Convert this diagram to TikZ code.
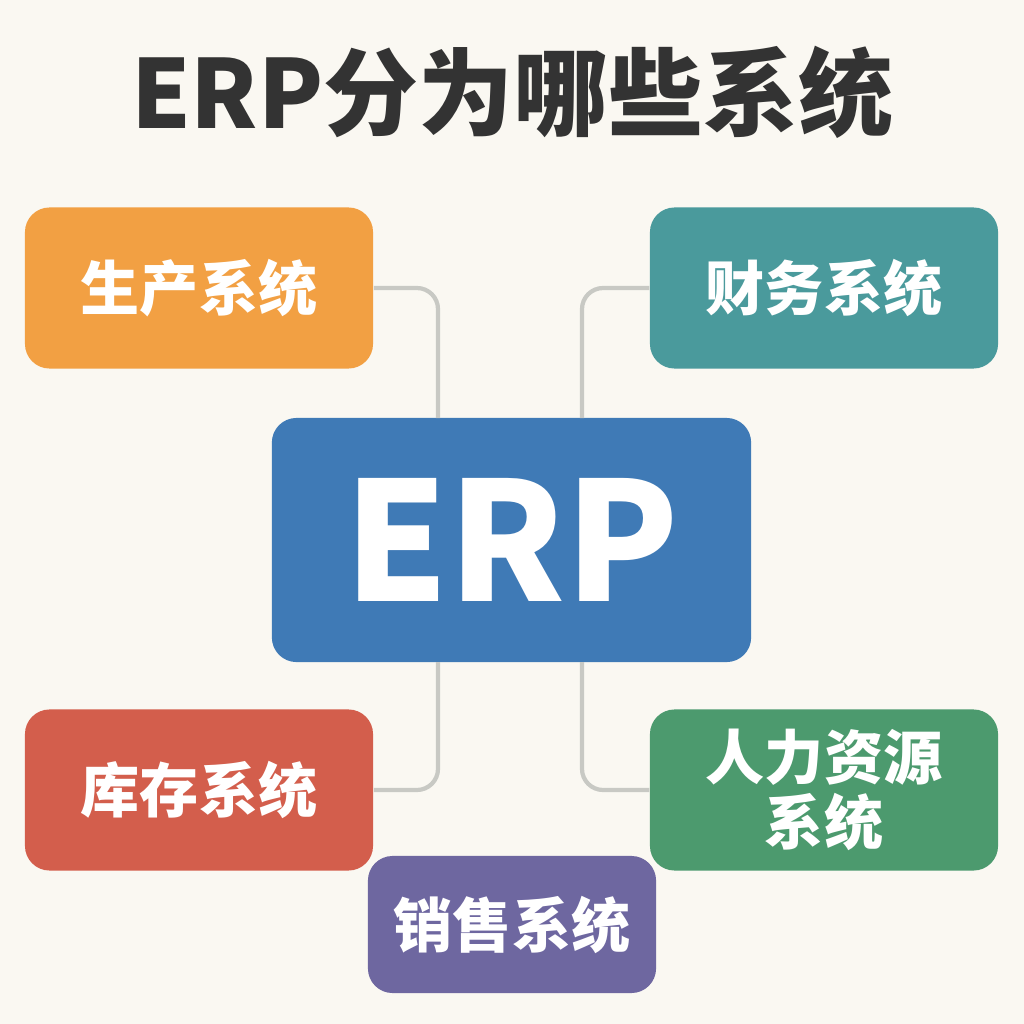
\documentclass[tikz,border=0pt]{standalone}
\usepackage{fontspec}
\newfontfamily\cjk{Noto Sans CJK SC}
\definecolor{BgClr}{HTML}{FAF8F2}
\definecolor{TitleClr}{HTML}{333333}
\definecolor{LinkClr}{HTML}{C8C9C4}
\definecolor{ProdClr}{HTML}{F2A043}
\definecolor{FinClr}{HTML}{4A9A9C}
\definecolor{ErpClr}{HTML}{3F7AB6}
\definecolor{StockClr}{HTML}{D35E4C}
\definecolor{HrClr}{HTML}{4C9A6E}
\definecolor{SaleClr}{HTML}{6E67A0}
\tikzset{
  sysbox/.style={rounded corners=7pt,text=white,align=center,
    minimum width=9.80cm*0.355,minimum height=1.61cm,inner sep=0pt,
    font=\cjk\bfseries\fontsize{16.8}{20}\selectfont},
  link/.style={draw=LinkClr,line width=1.2pt,rounded corners=6pt}
}

\begin{document}
\begin{tikzpicture}[x=0.01cm,y=-0.01cm]
\fill[BgClr] (0,0) rectangle (1024,1024);

\node[font=\cjk\bfseries\fontsize{27}{30}\selectfont,text=TitleClr] (title) at (512,92) {ERP分为哪些系统};

\node[sysbox,fill=ErpClr,minimum width=4.79cm,minimum height=2.44cm,
  font=\cjk\bfseries\fontsize{47}{56}\selectfont] (erp) at (511.5,540) {ERP};

\node[sysbox,fill=ProdClr] (prod) at (199,288) {生产系统};
\node[sysbox,fill=FinClr] (fin) at (824,288) {财务系统};
\node[sysbox,fill=StockClr] (stock) at (199,790) {库存系统};
\node[sysbox,fill=HrClr,font=\cjk\bfseries\fontsize{16.8}{18.5}\selectfont] (hr) at (824,790) {人力资源\\系统};
\node[sysbox,fill=SaleClr,minimum width=2.88cm,minimum height=1.37cm] (sale) at (512,924.5) {销售系统};

% connectors
\coordinate (lt) at (438,418);
\coordinate (rt) at (582,418);
\coordinate (lb) at (438,662);
\coordinate (rb) at (582,662);
\draw[link] (prod.east) -| (lt);
\draw[link] (fin.west) -| (rt);
\draw[link] (lb) |- (stock.east);
\draw[link] (rb) |- (hr.west);

\end{tikzpicture}
\end{document}
